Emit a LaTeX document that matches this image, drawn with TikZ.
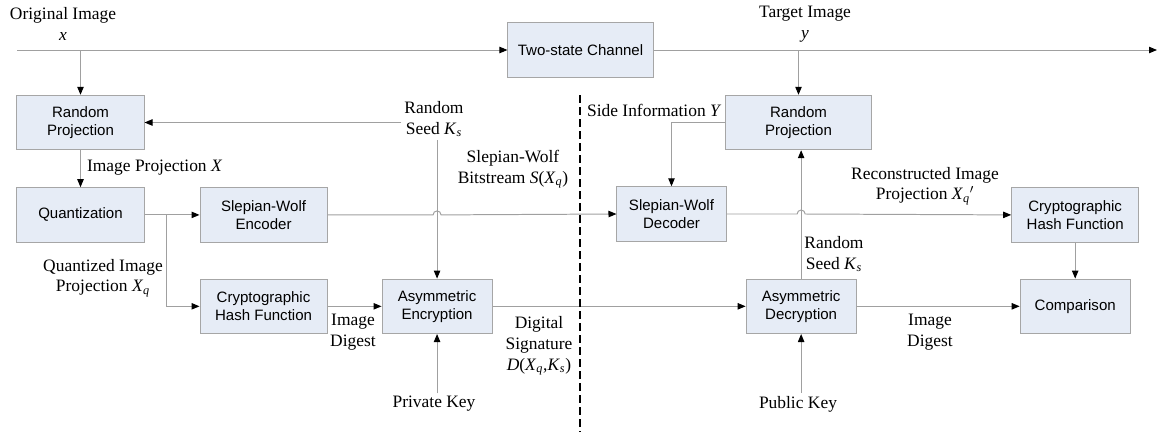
\documentclass[tikz,border=0pt]{standalone}
\usepackage{fontspec}
\setmainfont{Liberation Serif}
\setsansfont{Liberation Sans}
\usepackage{tikz}
\usetikzlibrary{arrows.meta, positioning}
\definecolor{boxfill}{HTML}{E6ECF6}
\definecolor{boxline}{HTML}{A6A6A6}
\definecolor{linegray}{HTML}{A0A0A0}
\newcommand{\sym}[2]{\textit{#1}\textsubscript{\textit{#2}}}

\begin{document}
\begin{tikzpicture}[
x=0.025cm, y=0.025cm,
box/.style={rectangle, draw=boxline, fill=boxfill, line width=0.7pt, minimum width=3.175cm, minimum height=1.36cm, align=center, inner sep=0pt, font=\sffamily\fontsize{10.7}{12.8}\selectfont},
lbl/.style={align=center, inner sep=2pt, font=\fontsize{12.4}{14.9}\selectfont},
arr/.style={-{Triangle[length=0.2cm, width=0.16cm, color=black, fill=black]}, draw=linegray, line width=0.7pt},
wire/.style={draw=linegray, line width=0.7pt}
]
\useasboundingbox (0,0) rectangle (1160,-434);

% sender side
\node[box] (rp1) at (80.5,-122.5) {Random\\Projection};
\node[box, below=0.925cm of rp1] (quant) {Quantization};
\node[box, right=1.375cm of quant] (swe) {Slepian-Wolf\\Encoder};
\node[box, below=0.9cm of swe] (chf1) {Cryptographic\\Hash Function};
\node[box, right=1.35cm of chf1, minimum width=2.75cm] (ae) {Asymmetric\\Encryption};

% channel
\node[box, minimum width=3.625cm] (chan) at (580.5,-50) {Two-state Channel};

% receiver side
\node[box, minimum width=3.625cm] (rp2) at (798.5,-122.5) {Random\\Projection};
\node[box, minimum width=2.725cm] (swd) at (671.5,-214) {Slepian-Wolf\\Decoder};
\node[box, right=6.325cm of ae, minimum width=2.75cm] (ad) {Asymmetric\\Decryption};
\node[box, right=4.075cm of ad, minimum width=2.75cm] (cmp) {Comparison};
\node[box, above=0.9cm of cmp] (chf2) {Cryptographic\\Hash Function};

% labels
\node[lbl] (orig) at (63,-24) {Original Image\\\textit{x}};
\node[lbl] (target) at (805,-24) {Target Image\\\textit{y}};
\node[lbl] (seed1) at (434,-119) {Random\\Seed \sym{K}{s}};
\node[lbl, anchor=west] (proj) at (84,-168) {Image Projection \textit{X}};
\node[lbl] (bits) at (513,-169) {Slepian-Wolf\\Bitstream \textit{S}(\sym{X}{q})};
\node[lbl, anchor=west] (side) at (584,-110) {Side Information \textit{Y}};
\node[lbl] (qproj) at (103,-278) {Quantized Image\\Projection \sym{X}{q}};
\node[lbl] (dig1) at (353,-332) {Image\\Digest};
\node[lbl] (sig) at (539,-346) {Digital\\Signature\\\textit{D}(\sym{X}{q},\sym{K}{s})};
\node[lbl] (priv) at (434,-404) {Private Key};
\node[lbl] (recon) at (925,-186) {Reconstructed Image\\Projection \sym{X}{q}$'$};
\node[lbl] (seed2) at (834,-254) {Random\\Seed \sym{K}{s}};
\node[lbl] (dig2) at (930,-332) {Image\\Digest};
\node[lbl] (pub) at (798,-404) {Public Key};

\coordinate (in) at (17,-50);
\coordinate (out) at (1157,-50);
\coordinate (dtop) at (580,-95);
\coordinate (dbot) at (580,-432);
\coordinate (br) at ([xshift=0.55cm]quant.east);
\coordinate (j1) at (ae.north |- swe.east);
\coordinate (j2) at (ad.north |- swd.east);

% connectors
\draw[arr] (in) -- (chan.west);
\draw[arr] (chan.east) -- (out);
\draw[arr] (rp1.north |- in) -- (rp1.north);
\draw[arr] (rp2.north |- out) -- (rp2.north);
\draw[arr] (seed1.west |- rp1.east) -- (rp1.east);
\draw[arr] (ae.north |- seed1.south) -- (ae.north);
\draw[arr] (rp1) -- (quant);
\draw[arr] (quant) -- (swe);
\draw[arr] (br) |- (chf1.west);
\draw[arr] (chf1) -- (ae);
\draw[arr] (priv.north -| ae.south) -- (ae.south);
\draw[arr] (ae) -- (ad);
\draw[arr] (swe.east) -- ([xshift=-0.1cm]j1) arc[start angle=180, end angle=0, radius=0.1cm] -- (swd.west);
\draw[arr] (rp2.west) -| (swd.north);
\draw[arr] (swd.east) -- ([xshift=-0.1cm]j2) arc[start angle=180, end angle=0, radius=0.1cm] -- (chf2.west);
\draw[arr] (ad.north) -- (ad.north |- rp2.south);
\draw[arr] (pub.north -| ad.south) -- (ad.south);
\draw[arr] (ad) -- (cmp);
\draw[arr] (chf2.south) -- (chf2.south |- cmp.north);

% dividing line
\draw[black, line width=0.9pt, dash pattern=on 0.2cm off 0.1cm] (dtop) -- (dbot);
\end{tikzpicture}
\end{document}
